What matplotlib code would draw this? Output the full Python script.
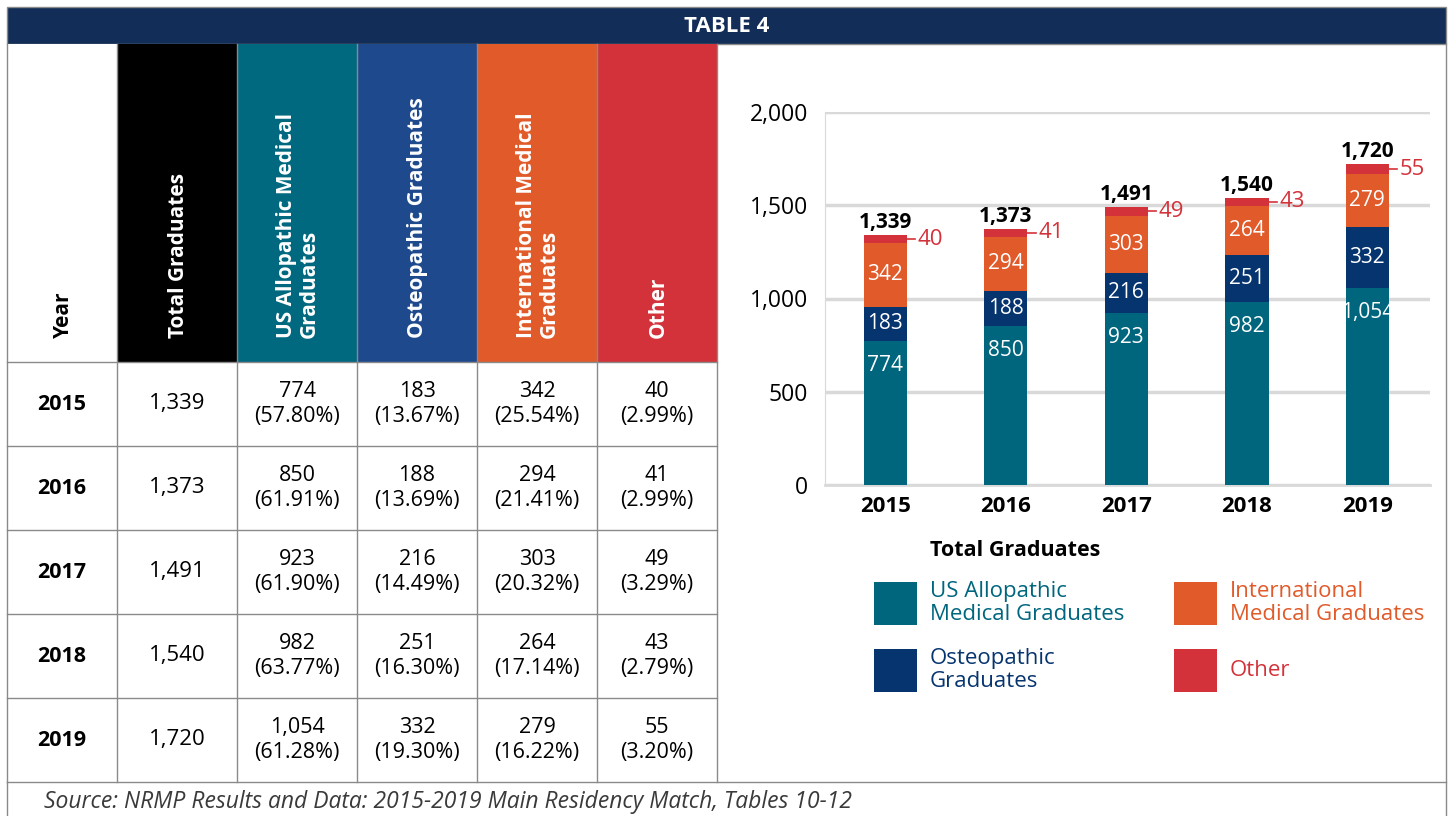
import matplotlib
matplotlib.use("Agg")
import matplotlib.pyplot as plt
from matplotlib.patches import Rectangle

plt.rcParams['font.family'] = ['Open Sans', 'DejaVu Sans']

# datos del grafico
years = ['2015', '2016', '2017', '2018', '2019']
us_allo = [774, 850, 923, 982, 1054]
osteo = [183, 188, 216, 251, 332]
intl = [342, 294, 303, 264, 279]
other = [40, 41, 49, 43, 55]
totals = [1339, 1373, 1491, 1540, 1720]

headers = ['Year', 'Total Graduates', 'US Allopathic Medical\nGraduates',
           'Osteopathic Graduates', 'International Medical\nGraduates', 'Other']
legend_names = ['US Allopathic\nMedical Graduates', 'Osteopathic\nGraduates',
                'International\nMedical Graduates', 'Other']
source = 'Source: NRMP Results and Data: 2015-2019 Main Residency Match, Tables 10-12'

c_teal = '#00667e'
c_navy = '#06346f'
c_orange = '#e05a2a'
c_red = '#d3323a'
c_title = '#122d57'
head_colors = ['white', 'black', '#00687f', '#1e4a8d', '#e05a2a', '#d3323a']
line_c = '#8a8a8a'

fig = plt.figure(figsize=(14.48, 8.16), dpi=100)

# lienzo en pixeles para la tabla
cv = fig.add_axes([0, 0, 1, 1])
cv.set_xlim(0, 1448)
cv.set_ylim(816, 0)
cv.axis('off')

# barra del titulo
cv.add_patch(Rectangle((7, 7), 1439, 37, facecolor=c_title, edgecolor=line_c, lw=1))
cv.text(727, 26, 'TABLE 4', color='white', fontsize=16, fontweight='bold', ha='center', va='center')

col_x = [7, 117, 237, 357, 477, 597, 717]
row_y = [44, 362, 446, 530, 614, 698, 782]

# encabezados
for i, h in enumerate(headers):
    x0, x1 = col_x[i], col_x[i + 1]
    cv.add_patch(Rectangle((x0, row_y[0]), x1 - x0, row_y[1] - row_y[0],
                           facecolor=head_colors[i], edgecolor='none'))
    cv.text((x0 + x1) / 2 + 1, 338, h, rotation=90, rotation_mode='anchor',
            ha='left', va='center', multialignment='left',
            color='black' if i == 0 else 'white', fontsize=15, fontweight='bold',
            linespacing=1.15)

# filas de datos
for r in range(len(years)):
    yc = (row_y[r + 1] + row_y[r + 2]) / 2
    cv.text((col_x[0] + col_x[1]) / 2, yc, years[r], ha='center', va='center',
            fontsize=15.5, fontweight='bold')
    cv.text((col_x[1] + col_x[2]) / 2, yc, f'{totals[r]:,}', ha='center', va='center', fontsize=16)
    vals = [us_allo[r], osteo[r], intl[r], other[r]]
    for j, v in enumerate(vals):
        xc = (col_x[j + 2] + col_x[j + 3]) / 2
        pct = v / totals[r] * 100
        cv.text(xc, yc, f'{v:,}\n({pct:.2f}%)', ha='center', va='center',
                fontsize=15.5, linespacing=1.3)

# lineas de la tabla
for x in col_x:
    cv.plot([x, x], [row_y[0], row_y[-1]], color=line_c, lw=1)
for y in row_y[1:-1]:
    cv.plot([col_x[0], col_x[-1]], [y, y], color=line_c, lw=1)
cv.plot([7, 1446], [782, 782], color=line_c, lw=1)
cv.plot([7, 7], [782, 816], color=line_c, lw=1)
cv.plot([1446, 1446], [44, 816], color=line_c, lw=1)

cv.text(44, 802, source, fontsize=16.5, style='italic', ha='left', va='center', color='#3a3a3a')

# grafico de barras apiladas
ax = fig.add_axes([825 / 1448, (816 - 485) / 816, 605 / 1448, 373 / 816])
x = range(len(years))
w = 0.36
series = [us_allo, osteo, intl, other]
colors = [c_teal, c_navy, c_orange, c_red]
bottom = [0] * len(years)
for k, (s, c) in enumerate(zip(series, colors)):
    ax.bar(x, s, w, bottom=bottom, color=c, zorder=3)
    for i in x:
        if k == 0:
            # la etiqueta del primer tramo va cerca del borde superior
            ax.annotate(f'{s[i]:,}', (i, s[i]), xytext=(0, -10), textcoords='offset points',
                        ha='center', va='top', color='white', fontsize=15)
        elif k < 3:
            ax.text(i, bottom[i] + s[i] / 2, f'{s[i]:,}', ha='center', va='center',
                    color='white', fontsize=15)
    bottom = [b + v for b, v in zip(bottom, s)]

for i in x:
    ax.text(i, totals[i] + 12, f'{totals[i]:,}', ha='center', va='bottom',
            fontsize=15, fontweight='bold')
    ym = totals[i] - other[i] / 2
    ax.plot([i + w / 2, i + w / 2 + 0.07], [ym, ym], color=c_red, lw=1.2, zorder=3,
            clip_on=False)
    ax.text(i + w / 2 + 0.09, ym, str(other[i]), color=c_red, fontsize=16,
            ha='left', va='center')

ax.set_xlim(-0.5, 4.52)
ax.set_ylim(0, 2000)
ax.set_yticks([0, 500, 1000, 1500, 2000])
ax.set_yticklabels(['0', '500', '1,000', '1,500', '2,000'], fontsize=16.5)
ax.set_xticks(list(x))
ax.set_xticklabels(years, fontsize=16, fontweight='bold')
ax.tick_params(length=0, pad=8)
ax.tick_params(axis='y', pad=12)
ax.grid(axis='y', color='#d9d9d9', lw=2.5, zorder=0)
for sp in ['top', 'right']:
    ax.spines[sp].set_visible(False)
ax.spines['left'].set_color('#d9d9d9')
ax.spines['bottom'].set_color('#d9d9d9')
ax.spines['bottom'].set_linewidth(2)
ax.set_facecolor('none')

# leyenda
cv.text(930, 550, 'Total Graduates', fontsize=15.5, fontweight='bold', ha='left', va='center')
leg_pos = [(874, 582), (874, 649), (1174, 582), (1174, 649)]
for (lx, ly), name, c in zip(leg_pos, legend_names, colors):
    cv.add_patch(Rectangle((lx, ly), 43, 43, facecolor=c, edgecolor='none'))
    cv.text(lx + 56, ly + 21, name, color=c, fontsize=16, ha='left', va='center',
            linespacing=1.15)

fig.savefig('out.png', dpi=100)
